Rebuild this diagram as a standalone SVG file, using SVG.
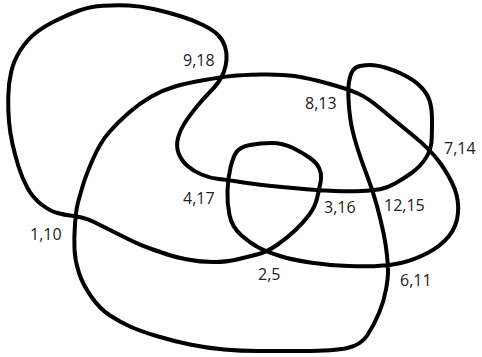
<svg xmlns="http://www.w3.org/2000/svg" width="482" height="357" viewBox="0 0 482 357">
<style>
.curve{fill:none;stroke:#000;stroke-width:4;stroke-linejoin:round;stroke-linecap:round}
.lbl{font-family:"Open Sans","Liberation Sans",sans-serif;font-size:16px;fill:#222}
</style>
<rect width="482" height="357" fill="#fff"/>
<g id="connectors">
<path class="curve" d="M70,215.5 Q75,216 81.5,217.5 Q88,219 94,222 Q100,225 110,230 Q120,235 130,240 Q140,245 151.5,249 Q163,253 169,255 Q175,257 187.5,259.5 Q200,262 213.5,262 Q227,262 237,259.5 Q247,257 257,254.5 Q267,252 277,245 Q287,238 295,230.5 Q303,223 309,215 Q315,207 317,198.5 Q319,190 320.5,182.5 Q322,175 319.5,169 Q317,163 310,158 Q303,153 293,148 Q283,143 271.5,143 Q260,143 250,145 Q240,147 236.5,152 Q233,157 230.5,167.5 Q228,178 227.5,190.5 Q227,203 229.5,215 Q232,227 241,235 Q250,243 258.5,247.5 Q267,252 280,256 Q293,260 310,262.5 Q327,265 343.5,265.75 Q360,266.5 374,266.25 Q388,266 401,263 Q414,260 427.5,253 Q441,246 449,236 Q457,226 458,213 Q459,200 454.5,188.5 Q450,177 440.5,163.5 Q431,150 412.5,135 Q394,120 381,109 Q368,98 358,93.5 Q348,89 328,83.5 Q308,78 294.5,76 Q281,74 261,74.5 Q241,75 231.5,76 Q222,77 204.5,80 Q187,83 175,86.5 Q163,90 151.5,96.5 Q140,103 128.5,113 Q117,123 108.5,133 Q100,143 93,159 Q86,175 83,185 Q80,195 78,202.5 Q76,210 75,224 Q74,238 74.5,249.5 Q75,261 79,273 Q83,285 91.5,297 Q100,309 110,315.5 Q120,322 130,326.5 Q140,331 156.5,336 Q173,341 190,344.5 Q207,348 224,349.5 Q241,351 257.5,351 Q274,351 304,351 Q334,351 347.5,348 Q361,345 367.5,335 Q374,325 379,313 Q384,301 386,289.5 Q388,278 388,272 Q388,266 387,255.5 Q386,245 383.5,233 Q381,221 377,206 Q373,191 366.5,174 Q360,157 356,143.5 Q352,130 350.5,120 Q349,110 348.5,99.5 Q348,89 349,82 Q350,75 352.5,71 Q355,67 360,66 Q365,65 370.5,65 Q376,65 385,67.5 Q394,70 404,75 Q414,80 420.5,86.5 Q427,93 429.5,100.5 Q432,108 432,120.5 Q432,133 431.5,141.5 Q431,150 425.5,158.5 Q420,167 411.5,173 Q403,179 395,183.5 Q387,188 380,189.25 Q373,190.5 361.5,191 Q350,191.5 335,191 Q320,190.5 306.5,189.25 Q293,188 276.5,186.5 Q260,185 243.5,182.5 Q227,180 218.5,179 Q210,178 201.5,174.5 Q193,171 187,165.5 Q181,160 178.5,153 Q176,146 178,138 Q180,130 185,122.5 Q190,115 196.5,107 Q203,99 209,93 Q215,87 218.5,82 Q222,77 224,71.5 Q226,66 226.5,59.5 Q227,53 225,46.5 Q223,40 218,35 Q213,30 203,25 Q193,20 180,16 Q167,12 153.5,9 Q140,6 128.5,5.5 Q117,5 103.5,5.75 Q90,6.5 78.5,10.75 Q67,15 55,21 Q43,27 35,33.5 Q27,40 20.5,50 Q14,60 11.25,71.5 Q8.5,83 8.25,96.5 Q8,110 9,121.5 Q10,133 12.5,144 Q15,155 18.5,166.5 Q22,178 27.5,188 Q33,198 41.5,204.5 Q50,211 57.5,213 Q65,215 70,215.5 Z"/>
</g>
<g id="n-9-18"><text class="lbl" x="183" y="66">9,18</text></g>
<g id="n-8-13"><text class="lbl" x="305" y="109">8,13</text></g>
<g id="n-7-14"><text class="lbl" x="444" y="154">7,14</text></g>
<g id="n-4-17"><text class="lbl" x="183" y="204">4,17</text></g>
<g id="n-1-10"><text class="lbl" x="30" y="240">1,10</text></g>
<g id="n-3-16"><text class="lbl" x="324" y="213">3,16</text></g>
<g id="n-12-15"><text class="lbl" x="384" y="211">12,15</text></g>
<g id="n-2-5"><text class="lbl" x="258" y="280">2,5</text></g>
<g id="n-6-11"><text class="lbl" x="400" y="286">6,11</text></g>
</svg>
